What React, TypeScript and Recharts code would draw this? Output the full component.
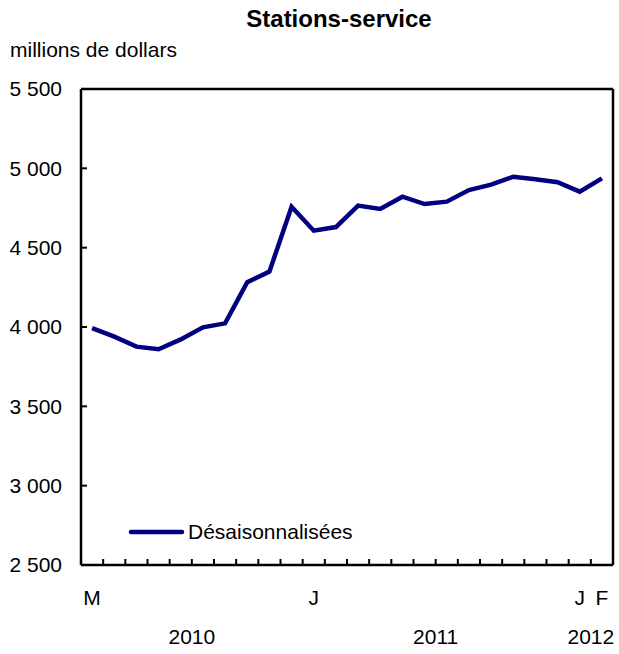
import React from 'react';
import { LineChart, Line, XAxis, YAxis } from 'recharts';

const months = ['2010-03','2010-04','2010-05','2010-06','2010-07','2010-08','2010-09','2010-10','2010-11','2010-12','2011-01','2011-02','2011-03','2011-04','2011-05','2011-06','2011-07','2011-08','2011-09','2011-10','2011-11','2011-12','2012-01','2012-02'];
const values = [3993, 3939, 3876, 3860, 3922, 3998, 4023, 4282, 4349, 4758, 4607, 4630, 4765, 4744, 4821, 4775, 4790, 4863, 4897, 4947, 4931, 4912, 4853, 4937];
const monthLabels = ['M','','','','','','','','','','J','','','','','','','','','','','','J','F'];
const yearLabels = ['','','','','2010','','','','','','','','','','','2011','','','','','','','2012',''];
const yTicks = [2500, 3000, 3500, 4000, 4500, 5000, 5500];
const seriesName = 'Désaisonnalisées';

const data = months.map((m, i) => ({ month: m, value: values[i], idx: i }));

const FONT = '"Liberation Sans", Arial, sans-serif';
const W = 619;
const H = 654;
const M = { top: 88, right: 5, left: 0, bottom: 0 };
const Y_W = 81;
const X_H = 89;
const HALF_BAND = (W - 6 - Y_W) / months.length / 2;
const LINE_COLOR = '#000080';
const AXIS_LINE = { stroke: '#000', strokeWidth: 2.5 };

const fmt = (v: number) => {
  const s = String(v);
  return s.length > 3 ? s.slice(0, s.length - 3) + ' ' + s.slice(-3) : s;
};

const YTick = (props: any) => {
  const { x, y, payload } = props;
  const v = payload.value;
  const inner = v !== 2500 && v !== 5500;
  return (
    <g>
      {inner && <line x1={x} x2={x + 6} y1={y} y2={y} stroke="#000" strokeWidth={2} />}
      <text x={x - 19} y={y} dy="0.35em" textAnchor="end" fontFamily={FONT} fontSize={21} fill="#000">
        {fmt(v)}
      </text>
    </g>
  );
};

const XTick = (props: any) => {
  const { x, y, index } = props;
  const i = index;
  return (
    <g>
      {i > 0 && <line x1={x - HALF_BAND} x2={x - HALF_BAND} y1={y} y2={y - 6} stroke="#000" strokeWidth={2} />}
      {monthLabels[i] && (
        <text x={x} y={y + 33} dy="0.35em" textAnchor="middle" fontFamily={FONT} fontSize={21} fill="#000">
          {monthLabels[i]}
        </text>
      )}
      {yearLabels[i] && (
        <text x={x + HALF_BAND} y={y + 72} dy="0.35em" textAnchor="middle" fontFamily={FONT} fontSize={21} fill="#000">
          {yearLabels[i]}
        </text>
      )}
    </g>
  );
};

export default function App() {
  return (
    <div style={{ position: 'absolute', left: 0, top: 0, width: W, height: H, background: '#fff' }}>
      <div style={{ position: 'absolute', left: 0, width: 678, top: 5, textAlign: 'center', fontFamily: FONT, fontWeight: 'bold', fontSize: 24, lineHeight: '28px' }}>
        Stations-service
      </div>
      <div style={{ position: 'absolute', left: 10, top: 37, fontFamily: FONT, fontSize: 21, lineHeight: '26px' }}>
        millions de dollars
      </div>
      <LineChart width={W} height={H} data={data} margin={M}>
        <XAxis
          dataKey="month"
          height={X_H}
          interval={0}
          padding={{ left: HALF_BAND, right: HALF_BAND }}
          tick={<XTick />}
          tickLine={false}
          tickSize={0}
          tickMargin={0}
          axisLine={AXIS_LINE}
        />
        <XAxis
          xAxisId="top"
          orientation="top"
          dataKey="month"
          height={1}
          tick={false}
          tickLine={false}
          axisLine={AXIS_LINE}
        />
        <YAxis
          width={Y_W}
          domain={[2500, 5500]}
          ticks={yTicks}
          interval={0}
          tick={<YTick />}
          tickLine={false}
          tickSize={0}
          tickMargin={0}
          axisLine={AXIS_LINE}
        />
        <YAxis
          yAxisId="right"
          orientation="right"
          width={1}
          domain={[2500, 5500]}
          tick={false}
          tickLine={false}
          axisLine={AXIS_LINE}
        />
        <Line
          type="linear"
          dataKey="value"
          name={seriesName}
          stroke={LINE_COLOR}
          strokeWidth={4.5}
          dot={false}
          activeDot={false}
          isAnimationActive={false}
        />
      </LineChart>
      <div style={{ position: 'absolute', left: 128, top: 520, width: 260, height: 24 }}>
        <svg width={260} height={24}>
          <line x1={3} x2={54} y1={12} y2={12} stroke={LINE_COLOR} strokeWidth={4.5} strokeLinecap="round" />
          <text x={60} y={12} dy="0.35em" fontFamily={FONT} fontSize={21} fill="#000">{seriesName}</text>
        </svg>
      </div>
    </div>
  );
}
